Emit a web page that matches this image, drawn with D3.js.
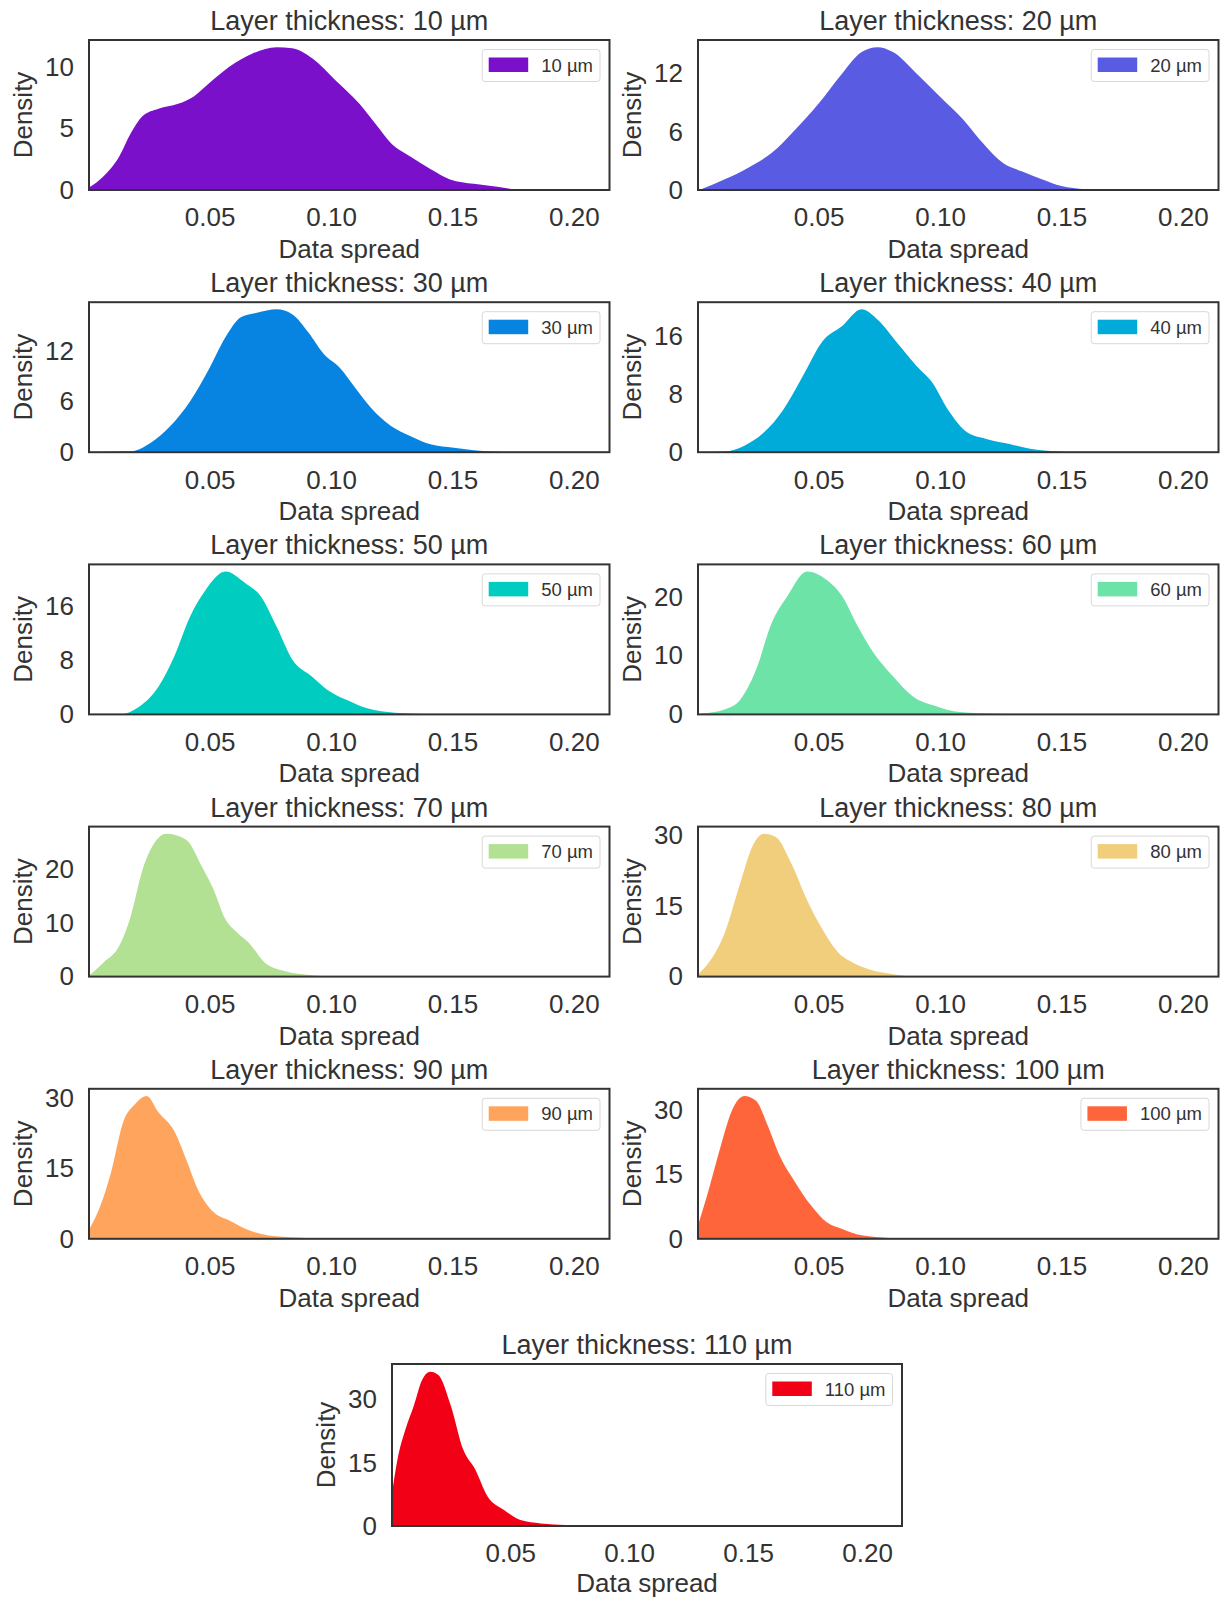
<!DOCTYPE html>
<html>
<head>
<meta charset="utf-8">
<script src="https://cdnjs.cloudflare.com/ajax/libs/d3/7.8.5/d3.min.js"></script>
<style>
    body { margin: 0; background: #fff; }
    #graphDiv text { font-family: "Liberation Sans", Arial, sans-serif; fill: #333; }
</style>
</head>
<body>
<div id="graphDiv"></div>
<script>
// layer thickness per panel (µm)
var thickness = [10, 20, 30, 40, 50, 60, 70, 80, 90, 100, 110];

var colors = ["#7a10c9", "#5a5be3", "#0784e2", "#00aad9", "#00ccc0", "#6de3a8",
              "#b2e193", "#f1ce7c", "#fea45d", "#ff653b", "#f20015"];

var yTicks = [[0, 5, 10], [0, 6, 12], [0, 6, 12], [0, 8, 16], [0, 8, 16], [0, 10, 20],
              [0, 10, 20], [0, 15, 30], [0, 15, 30], [0, 15, 30], [0, 15, 30]];

var xTicks = [0.05, 0.10, 0.15, 0.20];
var xLimits = [0.0003, 0.2147];

// density curves: [data spread, density]
var spread10 = [[0.0003, 0.2], [0.0062, 1.1], [0.0127, 2.7], [0.0175, 4.6], [0.0224, 6.0], [0.0289, 6.6],
    [0.037, 7.0], [0.0435, 7.6], [0.05, 8.7], [0.0581, 10.0], [0.0679, 11.1], [0.0776, 11.6], [0.084, 11.5],
    [0.0922, 10.7], [0.1019, 8.9], [0.1117, 7.0], [0.1182, 5.4], [0.1247, 3.8], [0.1328, 2.7], [0.1409, 1.7],
    [0.149, 0.86], [0.1588, 0.5], [0.1685, 0.27], [0.1766, 0.05], [0.191, 0.0], [0.2145, 0]];
var spread20 = [[0.0016, 0.07], [0.0113, 1.1], [0.021, 2.3], [0.0306, 3.8], [0.0403, 6.2], [0.05, 8.9],
    [0.0597, 12.0], [0.0677, 14.2], [0.0742, 14.7], [0.0806, 14.2], [0.0903, 12.0], [0.1, 9.6], [0.1097, 7.2],
    [0.1177, 4.8], [0.1258, 2.8], [0.1339, 1.9], [0.1419, 1.1], [0.15, 0.4], [0.1597, 0.07], [0.166, 0], [0.2145, 0]];
var spread30 = [[0.0003, 0], [0.0175, 0.1], [0.0256, 1.1], [0.0338, 3.1], [0.0419, 6.0], [0.05, 10.0],
    [0.0565, 13.6], [0.063, 16.0], [0.0695, 16.5], [0.0776, 16.9], [0.0841, 16.3], [0.0906, 14.2], [0.0971, 11.6],
    [0.1036, 10.0], [0.11, 7.6], [0.1166, 5.2], [0.1247, 3.1], [0.1328, 1.9], [0.1409, 0.93], [0.1506, 0.52],
    [0.1588, 0.24], [0.1685, 0.04], [0.18, 0], [0.2145, 0]];
var spread40 = [[0.0003, 0], [0.0113, 0.1], [0.0194, 0.9], [0.0274, 2.7], [0.0355, 5.9], [0.0435, 10.5],
    [0.0516, 15.3], [0.0597, 17.4], [0.0677, 19.7], [0.0742, 18.3], [0.0823, 15.1], [0.0903, 11.9],
    [0.0968, 9.6], [0.1032, 5.9], [0.1113, 2.7], [0.1194, 1.8], [0.129, 1.1], [0.1371, 0.46], [0.1484, 0.1],
    [0.157, 0], [0.2145, 0]];
var spread50 = [[0.0003, 0], [0.0127, 0], [0.0208, 1.1], [0.0289, 4.1], [0.0354, 8.6], [0.0419, 14.5],
    [0.0484, 18.5], [0.0565, 21.2], [0.0646, 19.5], [0.0711, 17.5], [0.0776, 13.0], [0.0841, 8.1],
    [0.0922, 5.6], [0.0987, 3.6], [0.1068, 2.1], [0.1149, 0.9], [0.1263, 0.25], [0.1425, 0.05], [0.16, 0], [0.2145, 0]];
var spread60 = [[0.0016, 0.17], [0.0113, 0.85], [0.0177, 2.5], [0.0242, 7.6], [0.0306, 15.5], [0.0371, 20.1],
    [0.0452, 24.3], [0.0532, 22.9], [0.0597, 20.1], [0.0661, 15.0], [0.0726, 10.5], [0.0806, 6.5],
    [0.0887, 3.1], [0.0984, 1.4], [0.1081, 0.4], [0.1242, 0.1], [0.14, 0], [0.2145, 0]];
var spread70 = [[0.0005, 0.25], [0.0062, 2.6], [0.0127, 5.7], [0.0175, 11.3], [0.0224, 20.0], [0.0273, 25.0],
    [0.0321, 26.7], [0.0403, 25.6], [0.0468, 20.6], [0.0516, 16.3], [0.0565, 10.7], [0.0614, 8.2],
    [0.0662, 6.3], [0.0727, 2.6], [0.0808, 1.05], [0.0922, 0.25], [0.1019, 0], [0.2145, 0]];
var spread80 = [[0.0003, 0.5], [0.0048, 3.0], [0.0113, 9.3], [0.0177, 19.9], [0.0226, 27.6], [0.0274, 30.4],
    [0.0323, 29.7], [0.0387, 24.1], [0.0452, 16.3], [0.0516, 10.0], [0.0581, 5.1], [0.0629, 3.3],
    [0.071, 1.5], [0.0806, 0.5], [0.0919, 0], [0.2145, 0]];
var spread90 = [[0.0005, 2.1], [0.0045, 6.4], [0.0094, 14.2], [0.0143, 24.8], [0.0192, 28.7], [0.024, 30.5],
    [0.0289, 27.0], [0.0354, 23.0], [0.0403, 17.0], [0.0451, 10.6], [0.0516, 5.7], [0.0581, 3.9],
    [0.0662, 1.8], [0.0744, 0.7], [0.0857, 0.28], [0.1019, 0], [0.2145, 0]];
var spread100 = [[0.0003, 3.1], [0.0048, 11.6], [0.0097, 21.7], [0.0145, 30.2], [0.0194, 33.3], [0.0242, 32.2],
    [0.029, 26.4], [0.0339, 19.4], [0.0403, 13.2], [0.0468, 7.8], [0.0532, 3.9], [0.0597, 2.3],
    [0.0677, 0.8], [0.079, 0.2], [0.1, 0], [0.2145, 0]];
var spread110 = [[0.0003, 7.8], [0.0026, 15.8], [0.006, 23.0], [0.0095, 28.6], [0.0129, 34.6], [0.0164, 36.6],
    [0.0198, 35.8], [0.025, 28.6], [0.0302, 18.2], [0.0353, 13.4], [0.0405, 7.0], [0.0474, 3.8],
    [0.0543, 1.4], [0.0629, 0.6], [0.0733, 0.24], [0.094, 0], [0.2145, 0]];

var curves = [spread10, spread20, spread30, spread40, spread50, spread60,
              spread70, spread80, spread90, spread100, spread110];

var svg = d3.select("#graphDiv")
    .append("svg")
    .attr("width", 1220)
    .attr("height", 1598);

thickness.forEach(function (t, i) {
    // panel box: 5 rows of 2, last one centred
    var box;
    if (i < 10) {
        box = {
            x: (i % 2) ? 698 : 89,
            y: 40 + Math.floor(i / 2) * 262.2,
            w: 520.5,
            h: 150
        };
    } else {
        box = {x: 392, y: 1364, w: 510, h: 162};
    }

    var data = curves[i];
    var xScale = d3.scaleLinear().domain(xLimits).range([0, box.w]);
    var yScale = d3.scaleLinear()
        .domain([0, d3.max(data, function (d) { return d[1]; }) * 1.05])
        .range([box.h, 0]);

    var graph = svg.append("g")
        .attr("transform", "translate(" + box.x + "," + box.y + ")");

    graph.append("clipPath")
        .attr("id", "clip" + i)
        .append("rect")
        .attr("width", box.w)
        .attr("height", box.h);

    var areaFunc = d3.area()
        .curve(d3.curveMonotoneX)
        .x(function (d) { return xScale(d[0]); })
        .y0(yScale(0))
        .y1(function (d) { return yScale(d[1]); });

    graph.append("path")
        .attr("clip-path", "url(#clip" + i + ")")
        .attr("fill", colors[i])
        .attr("d", areaFunc(data));

    // axes without tick marks (seaborn white style)
    var xAxis = d3.axisBottom(xScale).tickValues(xTicks).tickSize(0).tickPadding(18)
        .tickFormat(d3.format(".2f"));
    var yAxis = d3.axisLeft(yScale).tickValues(yTicks[i]).tickSize(0).tickPadding(15);

    var gx = graph.append("g")
        .attr("class", "x axis")
        .attr("transform", "translate(0," + box.h + ")")
        .call(xAxis);
    gx.selectAll("text").attr("font-size", 26).attr("dy", "0.71em");

    var gy = graph.append("g")
        .attr("class", "y axis")
        .call(yAxis);
    gy.selectAll("text").attr("font-size", 26);

    graph.selectAll(".axis path").remove();

    // frame
    graph.append("rect")
        .attr("width", box.w)
        .attr("height", box.h)
        .attr("fill", "none")
        .attr("stroke", "#333")
        .attr("stroke-width", 2);

    // title and axis labels
    graph.append("text")
        .attr("x", box.w / 2)
        .attr("y", -10)
        .attr("text-anchor", "middle")
        .attr("font-size", 27)
        .text("Layer thickness: " + t + " µm");

    graph.append("text")
        .attr("x", box.w / 2)
        .attr("y", box.h + (i < 10 ? 68 : 66))
        .attr("text-anchor", "middle")
        .attr("font-size", 26)
        .text("Data spread");

    graph.append("text")
        .attr("transform", "rotate(-90)")
        .attr("x", -box.h / 2)
        .attr("y", -57)
        .attr("text-anchor", "middle")
        .attr("font-size", 26)
        .text("Density");

    // legend, anchored to the top right corner
    var legend = graph.append("g");
    var label = legend.append("text")
        .attr("y", 22)
        .attr("font-size", 18.5)
        .text(t + " µm");
    var tw = label.node().getComputedTextLength();
    var lw = 59 + tw + 7;
    legend.attr("transform", "translate(" + (box.w - 9.5 - lw) + ",9.5)");
    label.attr("x", 59);
    legend.insert("rect", "text")
        .attr("width", lw)
        .attr("height", 32)
        .attr("rx", 3)
        .attr("fill", "#fff")
        .attr("fill-opacity", 0.8)
        .attr("stroke", "#d8d8d8");
    legend.insert("rect", "text")
        .attr("x", 6.5)
        .attr("y", 8)
        .attr("width", 39.5)
        .attr("height", 14.5)
        .attr("fill", colors[i]);
});
</script>
</body>
</html>
